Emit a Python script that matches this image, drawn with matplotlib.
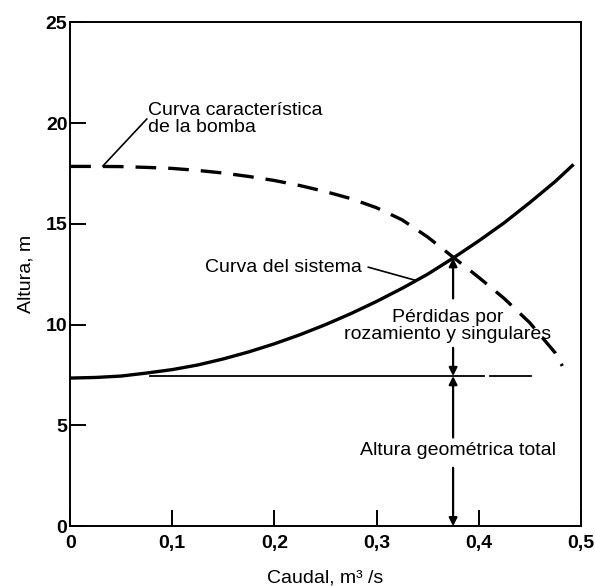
import matplotlib
matplotlib.use("Agg")
import matplotlib.pyplot as plt
import numpy as np

plt.rcParams['font.family'] = ['Liberation Sans', 'DejaVu Sans']

# curva caracteristica de la bomba
q_bomba = [0.0, 0.025, 0.05, 0.075, 0.10, 0.125, 0.15, 0.175, 0.20, 0.225,
           0.25, 0.275, 0.30, 0.325, 0.35, 0.375, 0.40, 0.425, 0.45, 0.475, 0.482]
h_bomba = [17.85, 17.85, 17.84, 17.8, 17.75, 17.65, 17.52, 17.35, 17.15, 16.9,
           16.6, 16.25, 15.8, 15.2, 14.35, 13.35, 12.35, 11.3, 10.1, 8.6, 7.95]

# curva del sistema
q_sist = [0.0, 0.025, 0.05, 0.075, 0.10, 0.125, 0.15, 0.175, 0.20, 0.225,
          0.25, 0.275, 0.30, 0.325, 0.35, 0.375, 0.40, 0.425, 0.45, 0.475, 0.493]
h_sist = [7.35, 7.38, 7.45, 7.6, 7.77, 8.0, 8.3, 8.65, 9.05, 9.5,
          10.0, 10.55, 11.15, 11.8, 12.5, 13.3, 14.15, 15.05, 16.05, 17.1, 17.95]

h_geom = 7.45          # altura geometrica total
q_op = 0.375           # punto de funcionamiento
h_op = 13.3

xticks = [0, 0.1, 0.2, 0.3, 0.4, 0.5]
xlabels = ['0', '0,1', '0,2', '0,3', '0,4', '0,5']
yticks = [0, 5, 10, 15, 20, 25]

fig = plt.figure(figsize=(5.95, 5.86), dpi=100)
ax = fig.add_axes([0.118, 0.102, 0.858, 0.86])

ax.plot(q_sist, h_sist, color='black', lw=2.4, solid_capstyle='butt',
        solid_joinstyle='round')
ax.plot(q_bomba, h_bomba, color='black', lw=2.4, dashes=(6.2, 3.6),
        dash_joinstyle='round')

# linea de altura geometrica
ax.plot([0.078, 0.405], [h_geom, h_geom], color='black', lw=1.3)
ax.plot([0.411, 0.451], [h_geom, h_geom], color='black', lw=1.3)

arr = dict(arrowstyle='-|>', color='black', lw=1.6, mutation_scale=12,
           shrinkA=0, shrinkB=0)
ax.annotate('', xy=(q_op, h_op), xytext=(q_op, 11.3), arrowprops=arr)
ax.annotate('', xy=(q_op, h_geom), xytext=(q_op, 8.85), arrowprops=arr)
ax.annotate('', xy=(q_op, h_geom), xytext=(q_op, 4.4), arrowprops=arr)
ax.annotate('', xy=(q_op, 0), xytext=(q_op, 2.9), arrowprops=arr)

fs = 14
ax.text(0.3695, 9.95, 'Pérdidas por\nrozamiento y singulares', ha='center',
        va='center', fontsize=fs, linespacing=1.0)
ax.text(0.38, 3.76, 'Altura geométrica total', ha='center', va='center',
        fontsize=fs)
ax.text(0.0765, 20.2, 'Curva característica\nde la bomba', ha='left',
        va='center', fontsize=fs, linespacing=1.0)
ax.plot([0.032, 0.075], [17.87, 20.2], color='black', lw=1.2)
ax.text(0.132, 12.85, 'Curva del sistema', ha='left', va='center', fontsize=fs)
ax.plot([0.292, 0.338], [12.85, 12.2], color='black', lw=1.2)

ax.set_xlim(0, 0.5)
ax.set_ylim(0, 25)
ax.set_xticks(xticks)
ax.set_xticklabels(xlabels, fontweight='bold')
ax.set_yticks(yticks)
ax.set_yticklabels([str(v) for v in yticks], fontweight='bold')
ax.tick_params(direction='in', length=11.5, width=1.4, labelsize=fs)
ax.tick_params(axis='x', pad=6)
ax.tick_params(axis='y', pad=2)
for s in ax.spines.values():
    s.set_linewidth(1.4)

ax.set_xlabel('Caudal, m³ /s', fontsize=fs, labelpad=13)
ax.set_ylabel('Altura, m', fontsize=fs, labelpad=8)

fig.savefig('out.png', dpi=100)
